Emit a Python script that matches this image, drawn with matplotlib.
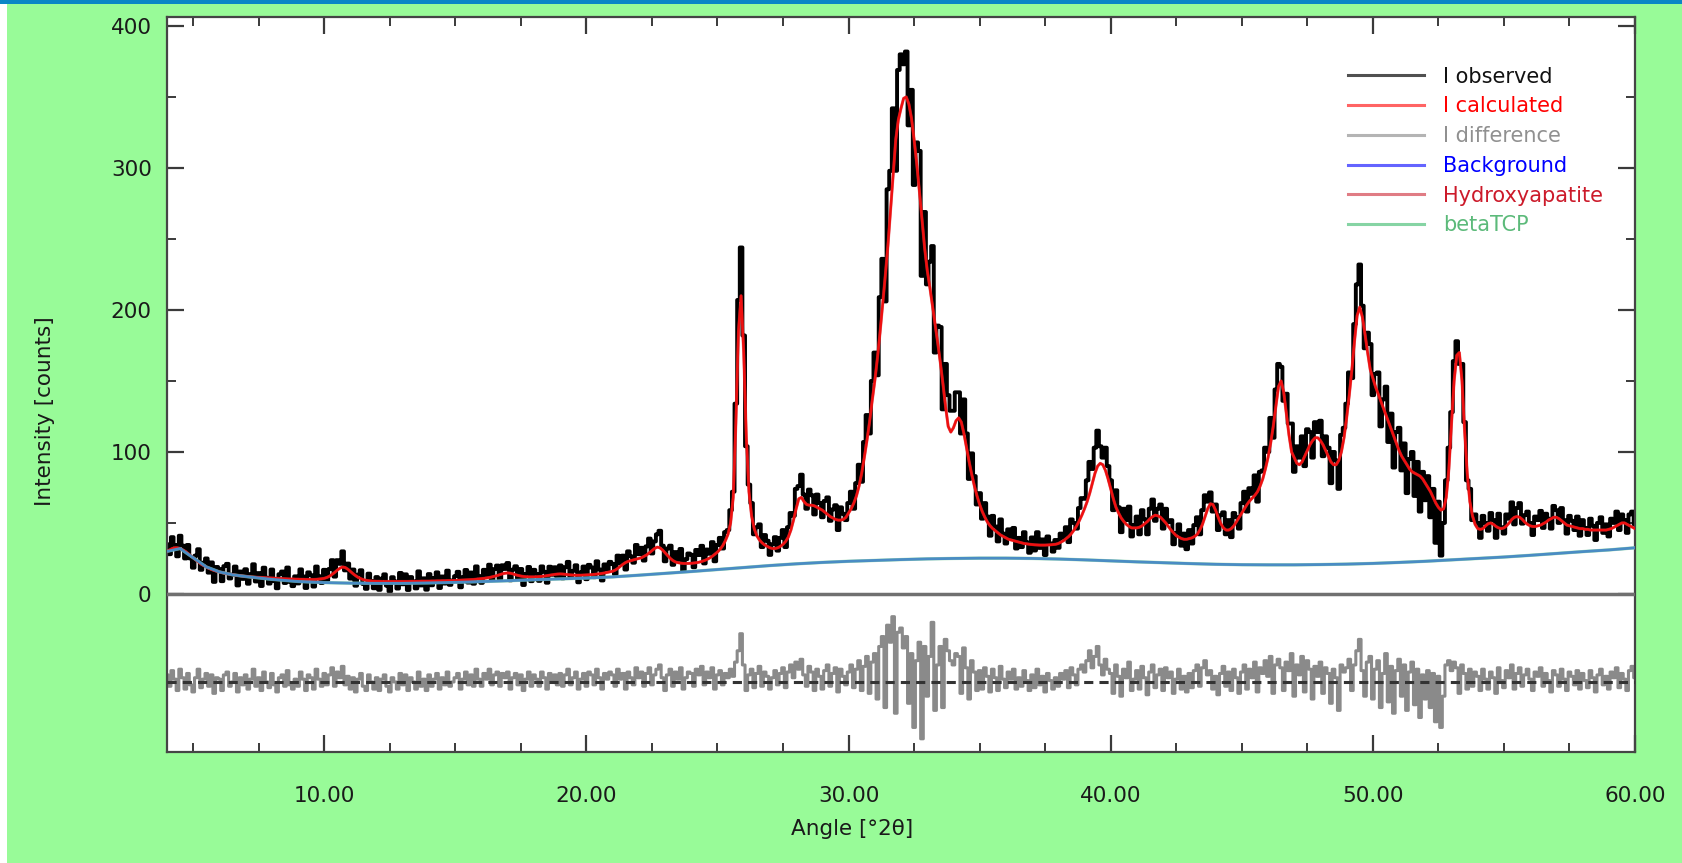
import numpy as np
import matplotlib
matplotlib.use("Agg")
import matplotlib.pyplot as plt
from matplotlib.patches import Rectangle
from matplotlib.lines import Line2D
from matplotlib.ticker import FixedLocator, FormatStrFormatter, MultipleLocator

plt.rcParams['font.family'] = ['DejaVu Sans']

# ---------------- data ----------------
two_theta = np.round(np.arange(4.0, 60.05, 0.1), 1)   # 0.1 deg grid

i_calc = [
    30, 31, 32, 32.5, 32.5, 32, 31, 30, 28.5, 27,                      # 4
    25.5, 24, 22.5, 21, 20, 19, 18, 17.2, 16.5, 16,                     # 5
    15.5, 15, 14.6, 14.2, 13.9, 13.6, 13.3, 13.0, 12.8, 12.6,           # 6
    12.4, 12.2, 12.0, 11.9, 11.8, 11.7, 11.6, 11.5, 11.4, 11.3,         # 7
    11.2, 11.1, 11.0, 10.9, 10.8, 10.7, 10.6, 10.5, 10.5, 10.4,         # 8
    10.4, 10.3, 10.3, 10.2, 10.2, 10.2, 10.2, 10.3, 10.5, 10.7,         # 9
    11.0, 11.6, 12.5, 13.8, 15.2, 16.8, 18.2, 19.0, 18.6, 17.4,         # 10
    15.8, 14.2, 12.8, 11.6, 10.7, 10.0, 9.6, 9.3, 9.1, 9.0,             # 11
    8.9, 8.9, 8.8, 8.8, 8.8, 8.8, 8.8, 8.8, 8.8, 8.8,                   # 12
    8.8, 8.8, 8.8, 8.9, 8.9, 8.9, 8.9, 9.0, 9.0, 9.0,                   # 13
    9.0, 9.1, 9.1, 9.2, 9.2, 9.3, 9.3, 9.4, 9.4, 9.5,                   # 14
    9.5, 9.6, 9.7, 9.8, 9.9, 10.0, 10.1, 10.2, 10.4, 10.6,              # 15
    10.8, 11.0, 11.3, 11.6, 12.0, 12.5, 13.0, 13.6, 14.2, 14.6,         # 16
    14.8, 14.6, 14.1, 13.5, 13.0, 12.6, 12.3, 12.1, 12.0, 12.0,         # 17
    12.0, 12.1, 12.2, 12.4, 12.6, 12.9, 13.2, 13.5, 13.8, 14.0,         # 18
    14.1, 14.0, 13.8, 13.6, 13.4, 13.3, 13.2, 13.2, 13.2, 13.3,         # 19
    13.4, 13.5, 13.6, 13.8, 14.0, 14.2, 14.5, 14.8, 15.2, 15.6,         # 20
    16.0, 16.8, 18.0, 19.6, 21.0, 22.2, 23.0, 23.5, 24.0, 24.5,         # 21
    25.0, 25.5, 26.5, 27.5, 29.0, 30.5, 32.0, 33.0, 32.5, 31.0,         # 22
    29.0, 27.0, 25.0, 23.5, 22.5, 22.0, 21.7, 21.5, 21.5, 21.5,         # 23
    21.6, 21.8, 22.0, 22.4, 22.9, 23.5, 24.3, 25.3, 26.5, 28.0,         # 24
    29.5, 31.5, 34.0, 37.5, 42.0, 50.0, 68.0, 120.0, 185.0, 210.0,      # 25
    170, 110, 72, 55, 46, 41, 38, 36, 34.5, 33.5,                       # 26
    32.5, 32, 32, 32.5, 33.5, 35, 37, 40, 45, 52,                       # 27
    60, 67, 68, 65, 63, 62.5, 62.5, 62, 61, 60,                         # 28
    59, 57.5, 56, 54.5, 53.5, 52.5, 52, 52, 52.5, 54,                   # 29
    57, 60, 64, 69, 76, 85, 96, 108, 121, 136,                          # 30
    150, 166, 184, 204, 224, 245, 270, 296, 320, 334,                   # 31
    342, 349, 350, 345, 335, 320, 303, 284, 264, 244,                   # 32
    228, 216, 203, 190, 177, 163, 148, 132, 118, 114,                   # 33
    117, 122, 124, 121, 113, 103, 93, 84, 76, 69,                       # 34
    63, 58, 54, 50.5, 48, 46, 44.5, 43, 41.5, 40.5,                     # 35
    39.5, 38.5, 38, 37.5, 37, 36.5, 36, 35.5, 35.3, 35,                 # 36
    34.8, 34.6, 34.5, 34.4, 34.4, 34.4, 34.5, 34.6, 34.8, 35,           # 37
    35.5, 36.5, 37.5, 39, 40.5, 42.5, 45, 48, 51.5, 55.5,               # 38
    60, 65, 71, 78, 85, 90, 92, 91, 87, 81,                             # 39
    74, 67, 61, 57, 53.5, 51, 49, 47.5, 46.5, 46.5,                     # 40
    46.5, 47, 48, 49.5, 51, 53, 54.5, 55.5, 55, 54,                     # 41
    52, 50, 47.5, 45, 43, 41, 40, 39, 38.5, 38.5,                       # 42
    39, 39.5, 40.5, 42, 45, 49, 54.5, 60, 63.5, 63,                     # 43
    59, 54, 49.5, 46.5, 45, 45, 46, 48, 51, 54,                         # 44
    57, 60, 63, 65.5, 67.5, 69.5, 72, 76, 81, 88,                       # 45
    96, 106, 118, 132, 146, 150, 142, 127, 112, 100,                    # 46
    96, 92, 91, 93, 97, 101, 105, 108, 110, 110,                        # 47
    108, 105, 101, 97, 93, 91, 91, 94, 100, 110,                        # 48
    124, 140, 158, 178, 196, 202, 195, 183, 170, 158,                   # 49
    152, 146, 141, 136, 131, 126, 121, 116, 111, 106,                   # 50
    101, 97, 94, 91, 88, 86, 85, 84, 83, 81,                            # 51
    78, 75, 72, 68, 64, 61, 59, 60, 68, 88,                             # 52
    120, 150, 168, 170, 150, 115, 85, 65, 55, 49,                       # 53
    46, 45.5, 46, 48, 49.5, 50, 49, 47.5, 46.5, 46,                     # 54
    46.5, 48, 50, 52.5, 54, 54.5, 54, 52.5, 50.5, 49,                   # 55
    48, 47.5, 47.5, 48, 48.5, 49.5, 50.5, 52, 53, 54,                   # 56
    54, 53, 51.5, 50, 48.5, 48, 47.5, 47, 46.5, 46,                     # 57
    46, 45.5, 45.5, 45, 45, 45, 45, 45, 45, 45,                         # 58
    45.5, 46, 47, 48, 49, 50, 50, 49, 48, 47,                           # 59
    46,                                                                 # 60
]

# residuals I_obs - I_calc
i_diff = [
    5, -3, 8, 2, -6, 9, 3, -5, 6, -2,
    -7, 3, 9, -4, 2, 6, -3, 5, -8, 3,
    2, -6, 5, 7, -3, 0, 6, -7, 3, -2,
    5, -5, 2, 9, -3, 3, -6, 7, 0, -4,
    6, -2, -7, 3, 5, -3, 8, -2, -5, 2,
    -3, 7, 2, -6, 5, 3, -5, 9, 2, -3,
    6, -2, 5, 10, -3, 7, 3, 11, -2, 4,
    -5, 3, -7, 2, 6, -3, -6, 5, 0, -5,
    3, -6, 2, 5, -3, -7, 3, 0, -5, 6,
    -2, 5, -6, 3, 0, -5, 7, -3, 2, -6,
    5, -3, 2, 6, -5, 3, -2, 7, -3, 0,
    3, 6, -5, 2, 7, -2, 5, -3, 9, 2,
    -3, 6, 2, 9, -2, 5, 7, -3, 6, 3,
    7, -5, 3, 6, -2, 5, -6, 2, 7, -3,
    5, 2, -3, 7, 3, -5, 6, 0, 5, -2,
    6, -3, 5, 9, -2, 3, 7, -5, 2, 6,
    -3, 7, 5, -2, 9, 3, -5, 6, 2, 7,
    5, -3, 9, 2, 6, -5, 7, 3, -2, 10,
    3, 7, -3, 6, 10, -2, 5, 9, 12, 3,
    -6, 5, 9, -3, 7, 2, 10, -5, 3, 7,
    6, -3, 9, 5, 11, -2, 7, 3, 10, -5,
    5, 8, -2, 6, 3, 9, 4, 14, 22, 34,
    12, -6, 5, 9, -4, 6, 11, -3, 7, 4,
    -5, 3, 8, -2, 6, 10, -4, 7, 12, 3,
    14, 9, 16, 5, -3, 11, 7, -6, 9, 4,
    -5, 8, 12, -3, 6, 10, -7, 9, 4, -2,
    7, 12, -4, 9, 15, -6, 11, 18, -8, 14,
    20, -12, 25, 32, -18, 40, 28, 46, -22, 35,
    38, 24, 32, -15, 20, -32, 15, 28, -40, 25,
    -10, 18, 42, -20, 12, 25, -18, 30, 22, 15,
    12, 20, 18, -8, 24, 10, -12, 15, 7, -6,
    8, -5, 10, 4, -7, 9, 3, -6, 11, 2,
    -4, 7, 2, 9, -5, 3, -3, 8, 1, -6,
    5, -4, 9, -2, 4, -7, 6, 1, -5, 3,
    -3, 6, 2, 8, -4, 10, 5, -2, 9, 12,
    7, 15, 22, 10, 18, 25, 12, 5, 16, 9,
    6, -8, 12, 4, -10, 9, 3, 14, -6, 2,
    8, -5, 11, 3, -9, 7, 12, -4, 5, 9,
    -6, 10, 3, 7, -8, 2, 9, -5, 4, -7,
    6, -4, 8, 12, -3, 10, 15, 5, 8, -5,
    4, -9, 6, 11, -3, 7, -6, 9, 3, -8,
    7, 12, -5, 9, 3, 14, -7, 10, 6, 15,
    4, 18, -8, 12, 16, 10, -6, 14, 8, 20,
    -10, 12, 5, 18, -7, 15, 9, -12, 11, 4,
    14, -8, 10, 6, -15, 9, 3, -20, 12, 7,
    10, 16, -6, 12, 22, 30, 8, -10, 14, 18,
    -12, 9, 15, -18, 6, 20, -14, 11, -22, 8,
    16, -10, 12, -20, 7, 14, -16, 9, -25, 5,
    -12, 8, -18, 6, -28, 4, -32, -10, 12, 15,
    8, 14, 10, -8, 12, 6, -5, 9, -3, 7,
    4, -6, 9, 2, -5, 7, 3, -8, 10, 1,
    -4, 8, 3, 12, -5, 6, 10, -3, 5, 9,
    2, -6, 7, 4, 10, -3, 6, 1, -7, 8,
    5, -3, 9, 2, -6, 7, 4, -2, 8, -5,
    6, 1, -4, 8, 3, -7, 5, 9, -2, 4,
    -5, 7, 3, 10, -4, 6, 2, -6, 8, 11,
    3,
]

bg_x = [4, 4.5, 5, 5.5, 6, 6.5, 7, 7.5, 8] + list(range(9, 61))
bg_y = [30, 32, 25.5, 19, 15.5, 13.5, 12.3, 11.3, 10.3,
        8.8, 8.0, 7.6, 7.5, 7.5, 7.8, 8.2, 8.7, 9.3, 10.0,
        10.6, 11.2, 12.0, 13.2, 14.5, 15.8, 17.2, 18.6, 20.0, 21.2,
        22.2, 23.0, 23.6, 24.2, 24.7, 25.0, 25.2, 25.2, 25.0, 24.6,
        24.0, 23.3, 22.6, 22.0, 21.4, 20.9, 20.6, 20.5, 20.5, 20.7,
        21.0, 21.5, 22.2, 23.0, 24.0, 25.0, 26.0, 27.2, 28.5, 29.8,
        31.0, 32.5]

diff_offset = -62
legend_labels = ["I observed", "I calculated", "I difference",
                 "Background", "Hydroxyapatite", "betaTCP"]
x_ticks = [10, 20, 30, 40, 50, 60]
y_ticks = [0, 100, 200, 300, 400]
y_minor = [50, 150, 250, 350]

# ---------------- figure ----------------
W, H = 1682, 863
fig = plt.figure(figsize=(W / 100, H / 100), dpi=100)
fig.patch.set_facecolor('white')
fig.add_artist(Rectangle((7 / W, 0), 1 - 7 / W, 1 - 4 / H, transform=fig.transFigure,
                         facecolor='#98fb98', edgecolor='none', zorder=0))
fig.add_artist(Rectangle((0, 1 - 4 / H), 1, 4 / H, transform=fig.transFigure,
                         facecolor='#0a86c6', edgecolor='none', zorder=0))

L, R, T, B = 167, 1635, 17, 752
ax = fig.add_axes([L / W, 1 - B / H, (R - L) / W, (B - T) / H])
ax.set_facecolor('white')

x = two_theta
calc = np.array(i_calc, dtype=float)
diff = np.array(i_diff, dtype=float)
obs = calc + diff

ax.plot(x, obs, drawstyle='steps-mid', color='black', lw=2.8, zorder=2)
ax.plot(x, calc, color='#d42a36', lw=2.2, alpha=0.6, zorder=3)
ax.plot(bg_x, bg_y, color='#7fd09a', lw=2.4, alpha=0.7, zorder=3)
ax.plot(x, calc, color='#ee1010', lw=1.8, zorder=4)
ax.plot(bg_x, bg_y, color='#4a8cc4', lw=2.0, zorder=4)

ax.axhline(0, color='#707070', lw=2.5, zorder=5)
ax.plot(x, diff + diff_offset, drawstyle='steps-mid', color='#8a8a8a', lw=2.2, zorder=2)
ax.axhline(diff_offset, color='#333333', lw=2.2, ls=(0, (3, 2)), zorder=5)

ax.set_xlim(4, 60)
ax.set_ylim(-111.3, 406.3)

ax.xaxis.set_major_locator(FixedLocator(x_ticks))
ax.xaxis.set_minor_locator(MultipleLocator(2.5))
ax.xaxis.set_major_formatter(FormatStrFormatter('%.2f'))
ax.yaxis.set_major_locator(FixedLocator(y_ticks))
ax.yaxis.set_minor_locator(FixedLocator(y_minor))

tick_col = '#3a3a3a'
ax.tick_params(axis='both', which='both', direction='in', top=True, right=True,
               colors=tick_col, labelcolor='#1a1a1a', labelsize=15.5)
ax.tick_params(axis='both', which='major', length=12, width=1.6)
ax.tick_params(axis='both', which='minor', length=6.5, width=1.4)
ax.tick_params(axis='x', which='major', pad=24.5)
ax.tick_params(axis='y', which='major', pad=11)
for s in ax.spines.values():
    s.set_color('#454545')
    s.set_linewidth(1.6)

fig.text(45 / W, 1 - 411 / H, "Intensity [counts]", rotation=90, fontsize=15.5,
         ha='center', va='center', color='#1a1a1a')
fig.text(852 / W, 1 - 829 / H, "Angle [°2θ]", fontsize=15.5,
         ha='center', va='center', color='#1a1a1a')

handle_cols = ['#505050', '#ff6464', '#b4b4b4', '#6464ff', '#e07c84', '#86d4a4']
text_cols = ['#111111', '#ff0000', '#909090', '#0000ff', '#cc1a2a', '#5cba7a']
handles = [Line2D([], [], color=c, lw=2.2) for c in handle_cols]
leg = ax.legend(handles, legend_labels, loc='upper left',
                bbox_to_anchor=(1348 / W, 1 - 66.5 / H), bbox_transform=fig.transFigure,
                frameon=False, fontsize=15, handlelength=3.65, handletextpad=0.9,
                labelspacing=0.47, borderpad=0, borderaxespad=0, labelcolor=text_cols)

fig.savefig('out.png', dpi=100, facecolor=fig.get_facecolor())
